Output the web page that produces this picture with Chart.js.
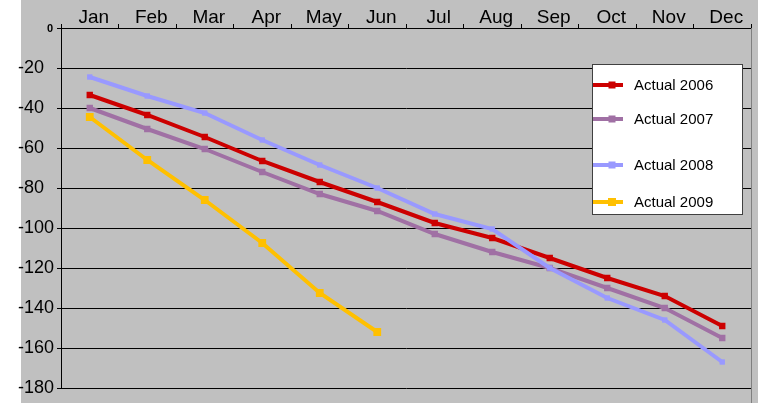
<!DOCTYPE html>
<html>
<head>
<meta charset="utf-8">
<script src="https://cdn.jsdelivr.net/npm/chart.js@4"></script>
<style>
  html, body { margin: 0; padding: 0; background: #fff; }
  #wrap { width: 758px; height: 403px; }
</style>
</head>
<body>
<div id="wrap"><canvas id="rainChart" width="758" height="403"></canvas></div>
<script>
// Values
const months = ['Jan', 'Feb', 'Mar', 'Apr', 'May', 'Jun', 'Jul', 'Aug', 'Sep', 'Oct', 'Nov', 'Dec'];
const seriesNames = ['Actual 2006', 'Actual 2007', 'Actual 2008', 'Actual 2009'];
const actual2006 = [-33.5, -43.5, -54.5, -66.5, -77, -87, -97.5, -105, -115, -125, -134, -149];
const actual2007 = [-40, -50.5, -60.5, -72, -83, -91.5, -103, -112, -120, -130, -140, -155];
const actual2008 = [-24.5, -34, -42.5, -56, -68.5, -80, -93, -100.5, -120, -135, -146, -167];
const actual2009 = [-44.5, -66, -86, -107.5, -132.5, -152, null, null, null, null, null, null];
const yMin = -180;
const yMax = 0;
const yStep = 20;

const colors = ['#CC0000', '#A070A4', '#9999FF', '#FFC000'];
const markerSizes = [4.5, 4.5, 3.8, 5.5];
const allSeries = [actual2006, actual2007, actual2008, actual2009];
const fontFamily = 'Arial, "Liberation Sans", sans-serif';

// gray chart background, right border, the small bold zero and the boxed legend
const excelLook = {
    id: 'excelLook',
    beforeDraw(chart) {
        const ctx = chart.ctx;
        ctx.save();
        ctx.fillStyle = '#fff';
        ctx.fillRect(0, 0, chart.width, chart.height);
        ctx.fillStyle = '#C0C0C0';
        ctx.fillRect(21, 0, chart.width - 21, chart.height);
        ctx.restore();
    },
    afterDraw(chart) {
        const ctx = chart.ctx;
        const area = chart.chartArea;
        ctx.save();
        // right border
        ctx.strokeStyle = '#808080';
        ctx.lineWidth = 1;
        ctx.beginPath();
        ctx.moveTo(Math.round(area.right) + 0.5, area.top);
        ctx.lineTo(Math.round(area.right) + 0.5, chart.height);
        ctx.stroke();

        // the zero label sits right next to the axis in bold
        const y0 = chart.scales.y.getPixelForValue(0);
        ctx.fillStyle = '#000';
        ctx.font = 'bold 11px ' + fontFamily;
        ctx.textAlign = 'right';
        ctx.textBaseline = 'middle';
        ctx.fillText('0', area.left - 8, y0 + 1);

        // legend box
        const bx = 592, by = 64, bw = 150, bh = 150;
        ctx.fillStyle = '#fff';
        ctx.fillRect(bx, by, bw, bh);
        ctx.strokeStyle = '#404040';
        ctx.strokeRect(bx + 0.5, by + 0.5, bw, bh);
        const rowsY = [85, 119, 165, 202];
        ctx.font = '15px ' + fontFamily;
        ctx.textAlign = 'left';
        ctx.textBaseline = 'middle';
        chart.data.datasets.forEach((ds, i) => {
            const y = rowsY[i];
            ctx.strokeStyle = ds.borderColor;
            ctx.lineWidth = 4;
            ctx.beginPath();
            ctx.moveTo(bx + 1, y);
            ctx.lineTo(bx + 31, y);
            ctx.stroke();
            const s = i === 3 ? 8 : 7;
            ctx.fillStyle = ds.pointBackgroundColor;
            ctx.fillRect(bx + 20 - s / 2, y - s / 2, s, s);
            ctx.fillStyle = '#000';
            ctx.fillText(ds.label, 634, y + 1);
        });
        ctx.restore();
    }
};

const ctx = document.getElementById('rainChart').getContext('2d');
const chart = new Chart(ctx, {
    type: 'line',
    data: {
        labels: months,
        datasets: allSeries.map((vals, i) => ({
            label: seriesNames[i],
            data: vals,
            borderColor: colors[i],
            backgroundColor: colors[i],
            pointBackgroundColor: colors[i],
            pointBorderWidth: 0,
            pointStyle: 'rect',
            pointRadius: markerSizes[i],
            borderWidth: 4,
            tension: 0,
            spanGaps: false,
            order: 4 - i
        }))
    },
    options: {
        responsive: false,
        animation: false,
        layout: { padding: { left: 18, right: 7, top: 0, bottom: 15 } },
        plugins: {
            legend: { display: false },
            tooltip: { enabled: false }
        },
        scales: {
            x: {
                position: 'top',
                offset: true,
                afterFit: scale => { scale.height = 28; },
                grid: {
                    offset: true,
                    drawOnChartArea: false,
                    drawTicks: true,
                    tickLength: 4,
                    color: '#000'
                },
                border: { display: true, color: '#000', width: 1 },
                ticks: {
                    color: '#000',
                    padding: -3,
                    labelOffset: 4,
                    maxRotation: 0,
                    autoSkip: false,
                    font: { family: fontFamily, size: 19, lineHeight: 1 }
                }
            },
            y: {
                min: yMin,
                max: yMax,
                afterFit: scale => { scale.width = 43; },
                grid: {
                    color: '#000',
                    lineWidth: 1,
                    drawTicks: true,
                    tickLength: 4
                },
                border: { display: true, color: '#000', width: 1 },
                ticks: {
                    stepSize: yStep,
                    color: '#000',
                    padding: 4,
                    crossAlign: 'far',
                    callback: v => (v === 0 ? '' : v),
                    font: { family: fontFamily, size: 18 }
                }
            }
        }
    },
    plugins: [excelLook]
});
</script>
</body>
</html>
